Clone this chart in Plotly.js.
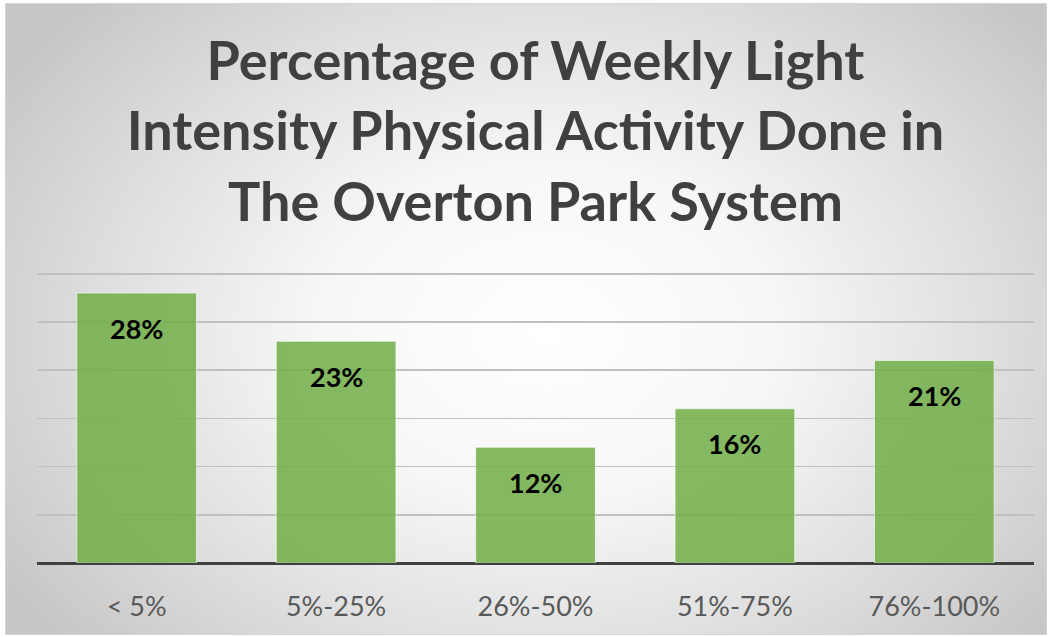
<!DOCTYPE html>
<html>
<head>
<meta charset="utf-8">
<script src="https://cdn.plot.ly/plotly-3.0.1.min.js"></script>
<style>
  html, body { margin:0; padding:0; width:1049px; height:637px; overflow:hidden; background:#ffffff; }
  #frame { position:absolute; left:5px; top:3px; width:1042px; height:632px; box-sizing:border-box;
           border:1px solid #d4d4d4;
           background: radial-gradient(ellipse 62% 75% at 52% 52%, #ffffff 0%, #f7f7f7 35%, #dedede 70%, #c6c6c6 100%); }
  #chart { position:absolute; left:0; top:0; width:1049px; height:637px; }
</style>
</head>
<body>
<div id="frame"></div>
<div id="chart"></div>
<script>
const categories = ["< 5%", "5%-25%", "26%-50%", "51%-75%", "76%-100%"];
const values = [28, 23, 12, 16, 21];
const labels = ["28%", "23%", "12%", "16%", "21%"];
const gridTicks = [0, 5, 10, 15, 20, 25, 30];

const trace = {
  type: 'bar',
  x: categories,
  y: values,
  width: 0.6,
  marker: { color: 'rgba(112,173,71,0.85)', line: { color: 'rgba(255,255,255,0.6)', width: 1 } },
  hoverinfo: 'skip'
};

const annotations = categories.map((c, i) => ({
  x: c, y: values[i], xref: 'x', yref: 'y',
  text: '<b>' + labels[i] + '</b>', showarrow: false,
  yanchor: 'middle', yshift: -35,
  font: { family: 'Lato, "Open Sans", sans-serif', size: 27, color: '#000000' }
}));

const layout = {
  width: 1049, height: 637,
  paper_bgcolor: 'rgba(0,0,0,0)', plot_bgcolor: 'rgba(0,0,0,0)',
  margin: { l: 37, r: 15, t: 269, b: 74 },
  title: {
    text: '<b>Percentage of Weekly Light<br>Intensity Physical Activity Done in<br>The Overton Park System</b>',
    font: { family: 'Lato, "Open Sans", sans-serif', size: 54, color: '#404040' },
    x: 0.5, xanchor: 'center', xref: 'paper',
    y: 0.874, yanchor: 'top', yref: 'container'
  },
  showlegend: false,
  bargap: 0.4,
  xaxis: {
    type: 'category',
    showgrid: false, zeroline: false,
    showline: false,
    ticks: '', ticklabelstandoff: 25,
    tickfont: { family: 'Lato, "Open Sans", sans-serif', size: 27, color: '#595959' },
    fixedrange: true
  },
  yaxis: {
    range: [0, 30.5], tickvals: gridTicks, showticklabels: false,
    showgrid: true, gridcolor: '#c0c0c0', gridwidth: 1.5,
    zeroline: true, zerolinecolor: '#404040', zerolinewidth: 3,
    showline: false, ticks: '', fixedrange: true
  },
  annotations: annotations
};

Plotly.newPlot('chart', [trace], layout, { displayModeBar: false, staticPlot: true });
</script>
</body>
</html>
